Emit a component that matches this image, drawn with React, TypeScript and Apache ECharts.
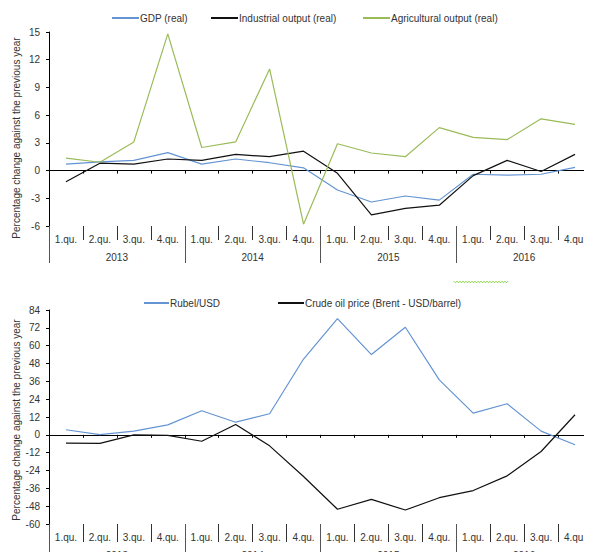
import React, { useEffect, useRef } from "react";
import * as echarts from "echarts";

const quarters = [
  "1.qu.", "2.qu.", "3.qu.", "4.qu.",
  "1.qu.", "2.qu.", "3.qu.", "4.qu.",
  "1.qu.", "2.qu.", "3.qu.", "4.qu.",
  "1.qu.", "2.qu.", "3.qu.", "4.qu.",
];
const years = ["2013", "2014", "2015", "2016"];

const gdpReal = [0.7, 0.95, 1.1, 1.95, 0.7, 1.25, 0.85, 0.3, -2.1, -3.4, -2.75, -3.2, -0.4, -0.5, -0.4, 0.35];
const industrialReal = [-1.2, 0.8, 0.7, 1.25, 1.1, 1.75, 1.5, 2.1, -0.3, -4.8, -4.1, -3.75, -0.55, 1.1, -0.1, 1.75];
const agriculturalReal = [1.35, 0.9, 3.1, 14.8, 2.5, 3.1, 11.0, -5.8, 2.9, 1.9, 1.5, 4.65, 3.6, 3.35, 5.6, 5.0];

const topYTicks = { min: -6, max: 15, interval: 3 };

const rubelUsd = [3.4, 0.2, 2.5, 6.7, 16.2, 8.5, 14.2, 51, 78.2, 54, 72.4, 37, 14.6, 20.9, 2.5, -6.7];
const crudeOil = [-5.6, -5.8, 0, -0.4, -4.3, 7, -7.4, -28, -50.1, -43.4, -50.6, -42.3, -37.5, -27.6, -11.2, 13.5];

const bottomYTicks = { min: -60, max: 84, interval: 12 };

const yAxisTitle = "Percentage change against the previous year";

const BLUE = "#6494d3";
const BLACK = "#111111";
const GREEN = "#9bbb59";
const FONT = "Liberation Sans";

export default function App() {
  const ref = useRef<HTMLDivElement>(null);

  useEffect(() => {
    if (!ref.current) return;
    const chart = echarts.init(ref.current, undefined, { renderer: "svg" });

    const grids = [
      { left: 49, top: 32, width: 548, height: 194 },
      { left: 49, top: 310, width: 548, height: 215 },
    ];

    const makeXAxes = (gridIndex: number, qTick: number) => [
      {
        type: "category",
        gridIndex,
        data: quarters,
        position: "bottom",
        boundaryGap: true,
        axisLine: { show: true, onZero: true, lineStyle: { color: "#000", width: 1 } },
        axisTick: { show: true, length: 3, interval: 0, lineStyle: { color: "#000" } },
        axisLabel: { show: false },
        splitLine: { show: false },
      },
      {
        type: "category",
        gridIndex,
        data: quarters,
        position: "bottom",
        boundaryGap: true,
        axisLine: { show: false, onZero: false },
        axisTick: { show: true, length: qTick, interval: 0, lineStyle: { color: "#333" } },
        axisLabel: {
          show: true,
          interval: 0,
          margin: 8,
          fontSize: 10,
          fontFamily: FONT,
          color: "#333",
        },
        splitLine: { show: false },
      },
      {
        type: "category",
        gridIndex,
        data: years,
        position: "bottom",
        boundaryGap: true,
        axisLine: { show: false, onZero: false },
        axisTick: { show: true, length: 37, interval: 0, lineStyle: { color: "#555" } },
        axisLabel: {
          show: true,
          interval: 0,
          margin: 26,
          fontSize: 10,
          fontFamily: FONT,
          color: "#333",
        },
        splitLine: { show: false },
      },
    ];

    const makeYAxis = (gridIndex: number, t: { min: number; max: number; interval: number }) => ({
      type: "value",
      gridIndex,
      min: t.min,
      max: t.max,
      interval: t.interval,
      axisLine: { show: true, lineStyle: { color: "#000", width: 1 } },
      axisTick: { show: true, length: 3, lineStyle: { color: "#000" } },
      axisLabel: { fontSize: 10, fontFamily: FONT, color: "#333", margin: 9 },
      splitLine: { show: false },
    });

    const lineSeries = (name: string, data: number[], color: string, xi: number, yi: number) => ({
      name,
      type: "line",
      data,
      xAxisIndex: xi,
      yAxisIndex: yi,
      symbol: "none",
      lineStyle: { color, width: 1.2 },
      itemStyle: { color },
      z: 3,
    });

    const legendItem = (name: string, left: number, top: number, w: number) => ({
      data: [name],
      left,
      top,
      padding: 0,
      itemWidth: w,
      itemHeight: 10,
      itemStyle: { opacity: 0 },
      textStyle: { fontSize: 10, fontFamily: FONT, color: "#333", padding: [0, 0, 0, -4] },
    });

    const squiggle: number[][] = [];
    for (let i = 0; i <= 36; i++) {
      squiggle.push([454 + i * 1.5, 282 + (i % 2 === 0 ? -0.8 : 0.8)]);
    }

    chart.setOption({
      animation: false,
      backgroundColor: "#fff",
      textStyle: { fontFamily: FONT },
      grid: grids,
      xAxis: [...makeXAxes(0, 14), ...makeXAxes(1, 18)],
      yAxis: [makeYAxis(0, topYTicks), makeYAxis(1, bottomYTicks)],
      legend: [
        legendItem("GDP (real)", 111, 13, 27),
        legendItem("Industrial output (real)", 210, 13, 27),
        legendItem("Agricultural output (real)", 362, 13, 27),
        legendItem("Rubel/USD", 143, 298, 25),
        legendItem("Crude oil price (Brent - USD/barrel)", 277, 298, 26),
      ],
      series: [
        lineSeries("GDP (real)", gdpReal, BLUE, 0, 0),
        lineSeries("Industrial output (real)", industrialReal, BLACK, 0, 0),
        lineSeries("Agricultural output (real)", agriculturalReal, GREEN, 0, 0),
        lineSeries("Rubel/USD", rubelUsd, BLUE, 3, 1),
        lineSeries("Crude oil price (Brent - USD/barrel)", crudeOil, BLACK, 3, 1),
      ],
      graphic: [
        {
          type: "text",
          x: 16,
          y: 138,
          rotation: Math.PI / 2,
          style: {
            text: yAxisTitle,
            font: `10px "${FONT}"`,
            fill: "#333",
            align: "center",
            verticalAlign: "middle",
          },
        },
        {
          type: "text",
          x: 16,
          y: 420,
          rotation: Math.PI / 2,
          style: {
            text: yAxisTitle,
            font: `10px "${FONT}"`,
            fill: "#333",
            align: "center",
            verticalAlign: "middle",
          },
        },
        {
          type: "polyline",
          shape: { points: squiggle },
          style: { stroke: "#7fd23a", lineWidth: 1, fill: null },
        },
      ],
    });

    return () => chart.dispose();
  }, []);

  return <div ref={ref} style={{ width: 592, height: 560, margin: -8 }} />;
}
